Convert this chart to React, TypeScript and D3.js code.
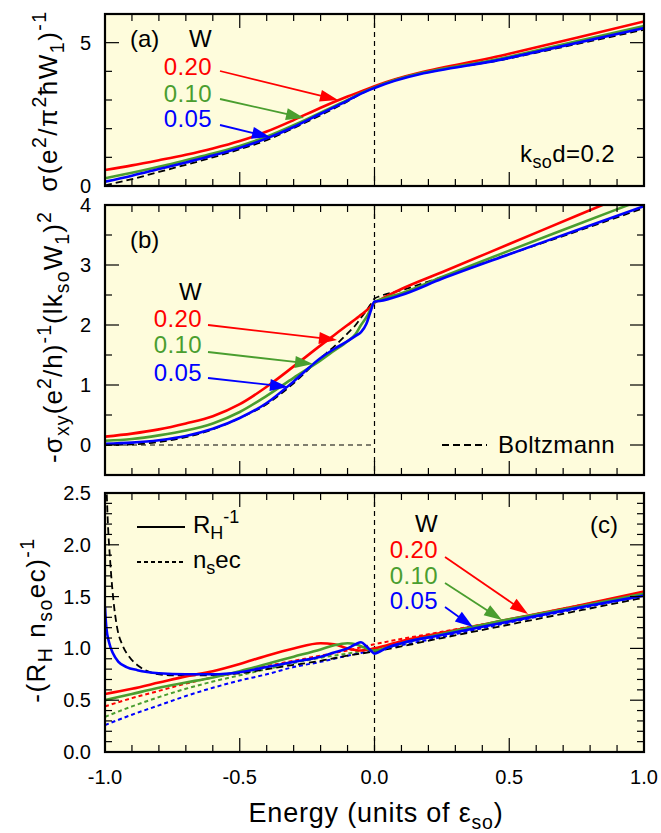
import React from 'react';
import * as d3 from 'd3';

// ---------------- data ----------------
// Panel (a): sigma
const energyA = [-1, -0.9, -0.8, -0.7, -0.6, -0.5, -0.4, -0.3, -0.2, -0.1, -0.05, 0, 0.5, 1];
const sigmaBoltz = [0.02, 0.24, 0.49, 0.74, 1.0, 1.28, 1.6, 2.02, 2.47, 2.95, 3.22, 3.45, 4.45, 5.45];
const sigmaW005 = [0.15, 0.36, 0.59, 0.82, 1.06, 1.33, 1.66, 2.06, 2.52, 2.98, 3.22, 3.42, 4.47, 5.51];
const sigmaW010 = [0.27, 0.46, 0.67, 0.9, 1.13, 1.4, 1.72, 2.12, 2.56, 3.0, 3.24, 3.44, 4.51, 5.58];
const sigmaW020 = [0.56, 0.72, 0.9, 1.09, 1.31, 1.57, 1.9, 2.3, 2.73, 3.12, 3.3, 3.48, 4.61, 5.74];

// Panel (b): -sigma_xy
const energyB = [-1, -0.9, -0.8, -0.7, -0.6, -0.5, -0.4, -0.3, -0.2, -0.15, -0.1, -0.07, -0.05, -0.03, -0.015, 0, 0.02, 0.1, 0.25, 0.5, 0.75, 1];
const sxyBoltz = [0.0, 0.01, 0.05, 0.13, 0.26, 0.45, 0.68, 1.03, 1.45, 1.64, 1.86, 2.0, 2.12, 2.24, 2.34, 2.44, 2.48, 2.58, 2.8, 3.18, 3.56, 3.95];
const sxyW005 = [0.02, 0.04, 0.08, 0.15, 0.27, 0.45, 0.7, 1.06, 1.45, 1.6, 1.73, 1.82, 1.88, 2.02, 2.22, 2.39, 2.4, 2.5, 2.77, 3.18, 3.58, 3.98];
const sxyW010 = [0.07, 0.1, 0.16, 0.24, 0.36, 0.55, 0.82, 1.12, 1.41, 1.57, 1.73, 1.85, 2.0, 2.13, 2.26, 2.38, 2.42, 2.53, 2.8, 3.24, 3.67, 4.1];
const sxyW020 = [0.14, 0.19, 0.26, 0.36, 0.48, 0.68, 0.97, 1.31, 1.66, 1.83, 2.0, 2.1, 2.17, 2.24, 2.3, 2.37, 2.42, 2.6, 2.88, 3.35, 3.82, 4.29];

// Panel (c): -(R_H n_so e c)^-1  (solid, R_H^-1)
const rhBoltzE = [-0.996, -0.99, -0.981, -0.969, -0.955, -0.935, -0.91, -0.87, -0.82, -0.75, -0.65, -0.5, -0.4, -0.3, -0.2, -0.1, 0, 0.25, 0.5, 0.75, 1];
const rhBoltzV = [2.7, 2.25, 1.85, 1.47, 1.2, 1.03, 0.92, 0.82, 0.76, 0.74, 0.74, 0.76, 0.8, 0.84, 0.88, 0.93, 0.97, 1.1, 1.23, 1.36, 1.49];
const rhW005E = [-1, -0.995, -0.985, -0.97, -0.95, -0.92, -0.88, -0.8, -0.7, -0.6, -0.5, -0.4, -0.3, -0.2, -0.15, -0.1, -0.07, -0.05, -0.03, -0.01, 0, 0.02, 0.05, 0.1, 0.25, 0.5, 0.75, 1];
const rhW005V = [1.4, 1.2, 1.06, 0.95, 0.87, 0.82, 0.79, 0.76, 0.75, 0.75, 0.77, 0.82, 0.87, 0.92, 0.96, 1.0, 1.04, 1.06, 1.02, 0.97, 0.95, 0.97, 1.01, 1.05, 1.13, 1.26, 1.39, 1.51];
const rhW010E = [-1, -0.9, -0.8, -0.7, -0.6, -0.5, -0.4, -0.3, -0.2, -0.15, -0.1, -0.07, -0.04, -0.01, 0, 0.05, 0.1, 0.25, 0.5, 0.75, 1];
const rhW010V = [0.5, 0.56, 0.62, 0.67, 0.72, 0.78, 0.85, 0.92, 0.99, 1.03, 1.05, 1.04, 1.01, 0.98, 0.98, 1.01, 1.05, 1.14, 1.28, 1.4, 1.53];
const rhW020E = [-1, -0.9, -0.8, -0.7, -0.6, -0.5, -0.4, -0.3, -0.2, -0.15, -0.1, -0.05, 0, 0.1, 0.25, 0.5, 0.75, 1];
const rhW020V = [0.56, 0.61, 0.67, 0.73, 0.78, 0.85, 0.93, 1.0, 1.05, 1.04, 1.0, 0.98, 1.0, 1.07, 1.15, 1.28, 1.41, 1.55];
// dotted, n_s e c
const nsE = [-1, -0.9, -0.8, -0.7, -0.6, -0.5, -0.4, -0.3, -0.2, -0.1, 0, 0.25, 0.5, 0.75, 1];
const nsW020 = [0.44, 0.52, 0.59, 0.66, 0.72, 0.77, 0.83, 0.88, 0.93, 0.98, 1.04, 1.16, 1.28, 1.41, 1.54];
const nsW010 = [0.34, 0.44, 0.53, 0.61, 0.68, 0.74, 0.8, 0.86, 0.91, 0.95, 1.0, 1.13, 1.26, 1.39, 1.52];
const nsW005 = [0.26, 0.36, 0.45, 0.54, 0.62, 0.69, 0.75, 0.82, 0.87, 0.93, 0.98, 1.11, 1.25, 1.38, 1.51];

const wLabels = ['0.20', '0.10', '0.05'];
const xTickLabels = ['-1.0', '-0.5', '0.0', '0.5', '1.0'];
const xTickValues = [-1, -0.5, 0, 0.5, 1];

// ---------------- style ----------------
const RED = '#ff0000';
const GREEN = '#4a9e2f';
const BLUE = '#0000ff';
const BG = '#fefcdc';
const FONT = "'Liberation Sans', Arial, Helvetica, sans-serif";
const ANN = 24;

const X_LEFT = 105;
const X_RIGHT = 644;
const x = d3.scaleLinear().domain([-1, 1]).range([X_LEFT, X_RIGHT]);

type Part = { t: string; s?: 'sup' | 'sub' };
function rich(parts: Part[], fs: number, scale = 0.72) {
  let cur = 0;
  return parts.map((p, i) => {
    const target = p.s === 'sup' ? -0.42 * fs : p.s === 'sub' ? 0.27 * fs : 0;
    const dy = target - cur;
    cur = target;
    return (
      <tspan key={i} dy={dy} fontSize={p.s ? fs * scale : fs}>
        {p.t}
      </tspan>
    );
  });
}

function Arrow({ x1, y1, x2, y2, color }: { x1: number; y1: number; x2: number; y2: number; color: string }) {
  const dx = x2 - x1;
  const dy = y2 - y1;
  const len = Math.hypot(dx, dy);
  const ux = dx / len;
  const uy = dy / len;
  const hl = 18;
  const hw = 6;
  const bx = x2 - ux * hl;
  const by = y2 - uy * hl;
  const pts = [
    [x2, y2],
    [bx - uy * hw, by + ux * hw],
    [bx + uy * hw, by - ux * hw],
  ]
    .map((p) => p.join(','))
    .join(' ');
  return (
    <g>
      <line x1={x1} y1={y1} x2={bx + ux * 2} y2={by + uy * 2} stroke={color} strokeWidth={1.8} />
      <polygon points={pts} fill={color} />
    </g>
  );
}

type PanelProps = {
  id: string;
  top: number;
  bottom: number;
  domain: [number, number];
  yTicks: number[];
  isMajor: (v: number) => boolean;
  labelFmt: (v: number) => string | null;
  children: (y: d3.ScaleLinear<number, number>) => React.ReactNode;
  xLabels?: boolean;
};

const near = (a: number, b: number) => Math.abs(a - b) < 1e-6;

function Panel({ id, top, bottom, domain, yTicks, isMajor, labelFmt, children, xLabels }: PanelProps) {
  const y = d3.scaleLinear().domain(domain).range([bottom, top]);
  const xTicks = d3.range(-10, 10.5, 1).map((v) => v / 10);
  const majorLen = 14;
  const minorLen = 7;
  return (
    <g>
      <defs>
        <clipPath id={`clip-${id}`}>
          <rect x={X_LEFT} y={top} width={X_RIGHT - X_LEFT} height={bottom - top} />
        </clipPath>
      </defs>
      <rect x={X_LEFT} y={top} width={X_RIGHT - X_LEFT} height={bottom - top} fill={BG} />
      <line x1={x(0)} x2={x(0)} y1={top} y2={bottom} stroke="#000" strokeWidth={1.2} strokeDasharray="5,4" />
      <g clipPath={`url(#clip-${id})`}>{children(y)}</g>
      {xTicks.map((v, i) => {
        const L = xTickValues.some((m) => near(m, v)) ? majorLen : minorLen;
        return (
          <g key={'xt' + i}>
            <line x1={x(v)} x2={x(v)} y1={bottom} y2={bottom - L} stroke="#000" strokeWidth={1.2} />
            <line x1={x(v)} x2={x(v)} y1={top} y2={top + L} stroke="#000" strokeWidth={1.2} />
          </g>
        );
      })}
      {yTicks.map((v, i) => {
        const L = isMajor(v) ? majorLen : minorLen;
        const lab = labelFmt(v);
        return (
          <g key={'yt' + i}>
            <line x1={X_LEFT} x2={X_LEFT + L} y1={y(v)} y2={y(v)} stroke="#000" strokeWidth={1.2} />
            <line x1={X_RIGHT} x2={X_RIGHT - L} y1={y(v)} y2={y(v)} stroke="#000" strokeWidth={1.2} />
            {lab !== null && (
              <text x={91} y={y(v) + 7} textAnchor="end" fontSize={20} fontFamily={FONT}>
                {lab}
              </text>
            )}
          </g>
        );
      })}
      {xLabels &&
        xTickValues.map((v, i) => (
          <text key={'xl' + i} x={x(v)} y={bottom + 32} textAnchor="middle" fontSize={20} fontFamily={FONT}>
            {xTickLabels[i]}
          </text>
        ))}
      <rect x={X_LEFT} y={top} width={X_RIGHT - X_LEFT} height={bottom - top} fill="none" stroke="#000" strokeWidth={2.2} />
    </g>
  );
}

function makeLine(y: d3.ScaleLinear<number, number>, es: number[], vs: number[]) {
  const pts: [number, number][] = es.map((e, i) => [e, vs[i]]);
  return (
    d3
      .line<[number, number]>()
      .x((d) => x(d[0]))
      .y((d) => y(d[1]))
      .curve(d3.curveMonotoneX)(pts) || ''
  );
}

function WLegend({ xr, yW, dy }: { xr: number; yW: number; dy: number[] }) {
  const cols = [RED, GREEN, BLUE];
  return (
    <g fontFamily={FONT} fontSize={ANN} textAnchor="end" letterSpacing={0.4}>
      <text x={xr} y={yW}>W</text>
      {wLabels.map((l, i) => (
        <text key={l} x={xr} y={dy[i]} fill={cols[i]}>
          {l}
        </text>
      ))}
    </g>
  );
}

const YL = 26;
const YLS = 1.5;

export default function App() {
  const lw = 2.6;
  return (
    <svg width={661} height={833} style={{ position: 'absolute', left: 0, top: 0, background: '#fff' }}>
      {/* Panel (a) */}
      <Panel
        id="a"
        top={14}
        bottom={186}
        domain={[0, 6]}
        yTicks={d3.range(0, 7)}
        isMajor={(v) => v === 0 || v === 5}
        labelFmt={(v) => (v === 0 || v === 5 ? String(v) : null)}
      >
        {(y) => (
          <g fill="none">
            <path d={makeLine(y, energyA, sigmaBoltz)} stroke="#000" strokeWidth={1.8} strokeDasharray="7,4" />
            <path d={makeLine(y, energyA, sigmaW020)} stroke={RED} strokeWidth={lw} />
            <path d={makeLine(y, energyA, sigmaW010)} stroke={GREEN} strokeWidth={lw} />
            <path d={makeLine(y, energyA, sigmaW005)} stroke={BLUE} strokeWidth={lw} />
          </g>
        )}
      </Panel>
      <text x={130} y={47} fontSize={ANN} fontFamily={FONT}>(a)</text>
      <WLegend xr={212} yW={47} dy={[75, 101.5, 126.5]} />
      <Arrow x1={220} y1={71} x2={338} y2={100} color={RED} />
      <Arrow x1={220} y1={99} x2={304} y2={118} color={GREEN} />
      <Arrow x1={220} y1={125} x2={270} y2={137} color={BLUE} />
      <text x={520} y={162} fontSize={ANN} fontFamily={FONT} letterSpacing={0.4}>
        {rich([{ t: 'k' }, { t: 'so', s: 'sub' }, { t: 'd=0.2' }], ANN, 0.75)}
      </text>

      {/* Panel (b) */}
      <Panel
        id="b"
        top={205}
        bottom={475}
        domain={[-0.5, 4]}
        yTicks={d3.range(-1, 9).map((v) => v / 2)}
        isMajor={(v) => Number.isInteger(v)}
        labelFmt={(v) => (Number.isInteger(v) && v >= 0 ? String(v) : null)}
      >
        {(y) => (
          <g fill="none">
            <line x1={x(-1)} x2={x(0)} y1={y(0)} y2={y(0)} stroke="#000" strokeWidth={1.2} strokeDasharray="5,4" />
            <path d={makeLine(y, energyB, sxyBoltz)} stroke="#000" strokeWidth={1.8} strokeDasharray="7,4" />
            <path d={makeLine(y, energyB, sxyW020)} stroke={RED} strokeWidth={lw} />
            <path d={makeLine(y, energyB, sxyW010)} stroke={GREEN} strokeWidth={lw} />
            <path d={makeLine(y, energyB, sxyW005)} stroke={BLUE} strokeWidth={lw} />
          </g>
        )}
      </Panel>
      <text x={130} y={248} fontSize={ANN} fontFamily={FONT}>(b)</text>
      <WLegend xr={202} yW={300} dy={[326.5, 353, 381]} />
      <Arrow x1={208} y1={325} x2={337} y2={340} color={RED} />
      <Arrow x1={208} y1={352} x2={313} y2={364} color={GREEN} />
      <Arrow x1={208} y1={378} x2={288} y2={387} color={BLUE} />
      <line x1={442} x2={487} y1={445} y2={445} stroke="#000" strokeWidth={1.8} strokeDasharray="7,4" />
      <text x={498} y={453} fontSize={ANN} fontFamily={FONT} letterSpacing={0.4}>Boltzmann</text>

      {/* Panel (c) */}
      <Panel
        id="c"
        top={493}
        bottom={752}
        domain={[0, 2.5]}
        yTicks={d3.range(0, 26).map((v) => v / 10)}
        isMajor={(v) => Math.abs(v * 2 - Math.round(v * 2)) < 1e-6}
        labelFmt={(v) => (Math.abs(v * 2 - Math.round(v * 2)) < 1e-6 ? v.toFixed(1) : null)}
        xLabels
      >
        {(y) => (
          <g fill="none">
            <path d={makeLine(y, nsE, nsW020)} stroke={RED} strokeWidth={2} strokeDasharray="4,3" />
            <path d={makeLine(y, nsE, nsW010)} stroke={GREEN} strokeWidth={2} strokeDasharray="4,3" />
            <path d={makeLine(y, nsE, nsW005)} stroke={BLUE} strokeWidth={2} strokeDasharray="4,3" />
            <path d={makeLine(y, rhBoltzE, rhBoltzV)} stroke="#000" strokeWidth={1.8} strokeDasharray="7,4" />
            <path d={makeLine(y, rhW020E, rhW020V)} stroke={RED} strokeWidth={lw} />
            <path d={makeLine(y, rhW010E, rhW010V)} stroke={GREEN} strokeWidth={lw} />
            <path d={makeLine(y, rhW005E, rhW005V)} stroke={BLUE} strokeWidth={lw} />
          </g>
        )}
      </Panel>
      <line x1={137} x2={185} y1={527} y2={527} stroke="#000" strokeWidth={2} />
      <text x={193} y={533} fontSize={ANN} fontFamily={FONT}>
        {rich([{ t: 'R' }, { t: 'H', s: 'sub' }, { t: '-1', s: 'sup' }], ANN, 0.75)}
      </text>
      <line x1={137} x2={185} y1={562} y2={562} stroke="#000" strokeWidth={2} strokeDasharray="4,3" />
      <text x={193} y={568} fontSize={ANN} fontFamily={FONT}>
        {rich([{ t: 'n' }, { t: 's', s: 'sub' }, { t: 'ec' }], ANN, 0.75)}
      </text>
      <WLegend xr={438} yW={532} dy={[558, 583.5, 609]} />
      <text x={590} y={533} fontSize={ANN} fontFamily={FONT}>(c)</text>
      <Arrow x1={445} y1={557} x2={528} y2={614} color={RED} />
      <Arrow x1={445} y1={583} x2={502} y2={620} color={GREEN} />
      <Arrow x1={445} y1={607} x2={473} y2={627} color={BLUE} />

      {/* axis titles */}
      <text x={376} y={822} textAnchor="middle" fontSize={27} fontFamily={FONT} letterSpacing={0.8}>
        {rich([{ t: 'Energy (units of ε' }, { t: 'so', s: 'sub' }, { t: ')' }], 27, 0.72)}
      </text>
      <text transform="translate(57,101) rotate(-90)" textAnchor="middle" fontSize={YL} fontFamily={FONT} letterSpacing={YLS}>
        {rich(
          [
            { t: 'σ(e' },
            { t: '2', s: 'sup' },
            { t: '/π' },
            { t: '2', s: 'sup' },
            { t: 'ħW' },
            { t: '1', s: 'sub' },
            { t: ')' },
            { t: '-1', s: 'sup' },
          ],
          YL,
          0.75
        )}
      </text>
      <text transform="translate(62,337) rotate(-90)" textAnchor="middle" fontSize={YL} fontFamily={FONT} letterSpacing={1.1}>
        {rich(
          [
            { t: '-σ' },
            { t: 'xy', s: 'sub' },
            { t: '(e' },
            { t: '2', s: 'sup' },
            { t: '/h)' },
            { t: '-1', s: 'sup' },
            { t: '(lk' },
            { t: 'so', s: 'sub' },
            { t: 'W' },
            { t: '1', s: 'sub' },
            { t: ')' },
            { t: '2', s: 'sup' },
          ],
          YL,
          0.75
        )}
      </text>
      <text transform="translate(45,620) rotate(-90)" textAnchor="middle" fontSize={YL} fontFamily={FONT} letterSpacing={YLS}>
        {rich(
          [{ t: '-(R' }, { t: 'H', s: 'sub' }, { t: ' n' }, { t: 'so', s: 'sub' }, { t: 'ec)' }, { t: '-1', s: 'sup' }],
          YL,
          0.75
        )}
      </text>
    </svg>
  );
}
